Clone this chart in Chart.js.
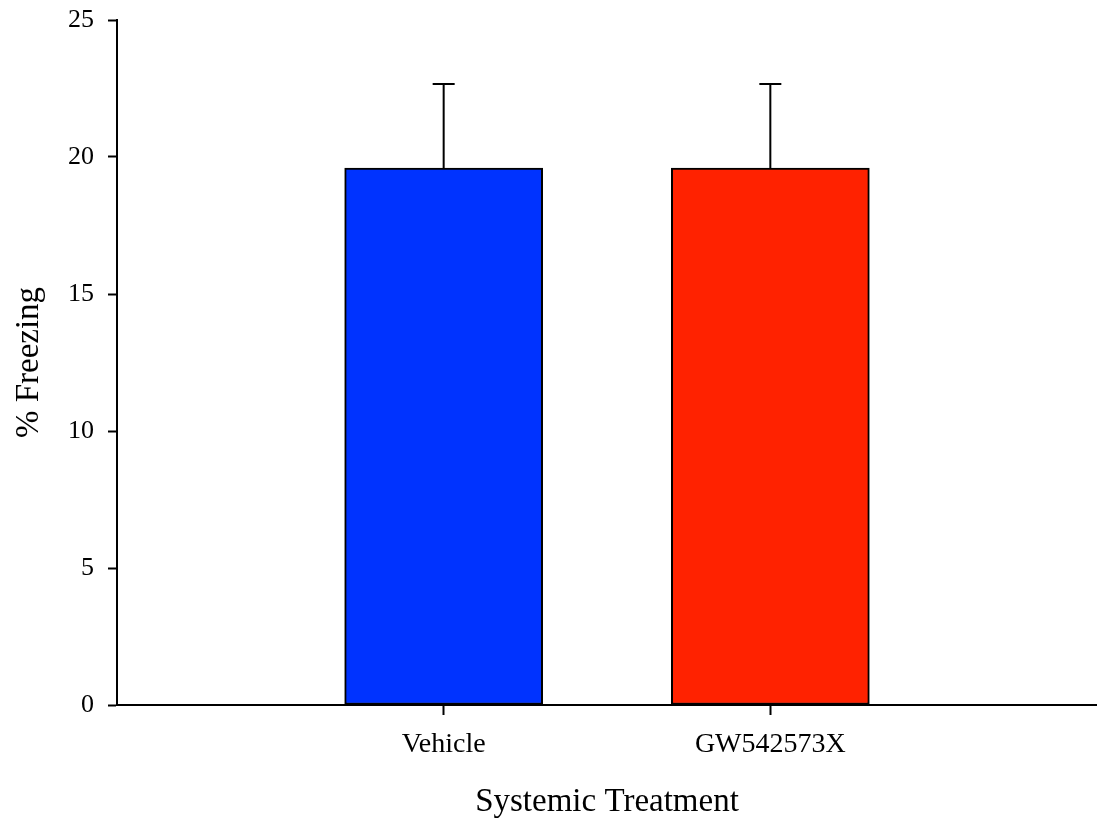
<!DOCTYPE html>
<html>
<head>
<meta charset="utf-8">
<script src="https://cdn.jsdelivr.net/npm/chart.js@4.4.1/dist/chart.umd.min.js"></script>
<style>
    html, body { margin: 0; padding: 0; background: #fff; }
    canvas { display: block; }
</style>
</head>
<body>
<canvas id="freezingChart" width="1097" height="822"></canvas>
<script>
// data
const categories = ["Vehicle", "GW542573X"];
const freezingMeans = [19.6, 19.6];
const freezingErrors = [3.06, 3.06];
const yTicks = [0, 5, 10, 15, 20, 25];
const barColors = ["#0033ff", "#ff2200"];

Chart.defaults.font.family = "'Liberation Serif', 'Times New Roman', serif";
Chart.defaults.color = "#000";

// upper error bars with a cap
const errorBarPlugin = {
    id: "errorBars",
    afterDatasetsDraw(chart) {
        const meta = chart.getDatasetMeta(0);
        const yScale = chart.scales.y;
        const ctx = chart.ctx;
        ctx.save();
        ctx.strokeStyle = "#000";
        ctx.lineWidth = 2;
        meta.data.forEach((bar, i) => {
            const top = yScale.getPixelForValue(freezingMeans[i] + freezingErrors[i]);
            ctx.beginPath();
            ctx.moveTo(bar.x, bar.y);
            ctx.lineTo(bar.x, top);
            ctx.moveTo(bar.x - 11, top);
            ctx.lineTo(bar.x + 11, top);
            ctx.stroke();
        });
        ctx.restore();
    },
};

const ctx = document.getElementById("freezingChart").getContext("2d");
new Chart(ctx, {
    type: "bar",
    data: {
        datasets: [{
            data: categories.map((c, i) => ({ x: i + 1, y: freezingMeans[i] })),
            backgroundColor: barColors,
            borderColor: "#000",
            borderWidth: 2,
            borderSkipped: false,
            barThickness: 198,
        }],
    },
    options: {
        responsive: false,
        animation: false,
        layout: { padding: 0 },
        plugins: { legend: { display: false }, tooltip: { enabled: false } },
        scales: {
            x: {
                type: "linear",
                min: 0,
                max: categories.length + 1,
                offset: false,
                afterBuildTicks: (scale) => {
                    scale.ticks = categories.map((c, i) => ({ value: i + 1 }));
                },
                afterFit: (scale) => { scale.height = 117; },
                grid: {
                    offset: false,
                    drawOnChartArea: false,
                    drawTicks: true,
                    tickLength: 10,
                    tickWidth: 2,
                    tickColor: "#000",
                },
                border: { color: "#000", width: 2 },
                ticks: {
                    autoSkip: false,
                    maxRotation: 0,
                    padding: 13,
                    font: { size: 28 },
                    callback: (value) => categories[value - 1] ?? "",
                },
                title: {
                    display: true,
                    text: "Systemic Treatment",
                    font: { size: 33 },
                    padding: { top: 0, bottom: 0 },
                },
            },
            y: {
                min: 0,
                max: 25,
                afterBuildTicks: (scale) => {
                    scale.ticks = yTicks.map((v) => ({ value: v }));
                },
                afterFit: (scale) => {
                    scale.width = 117;
                    scale.paddingTop = 20;
                },
                grid: {
                    drawOnChartArea: false,
                    drawTicks: true,
                    tickLength: 9,
                    tickWidth: 2,
                    tickColor: "#000",
                },
                border: { color: "#000", width: 2 },
                ticks: {
                    padding: 14,
                    font: { size: 26 },
                },
                title: {
                    display: true,
                    text: "% Freezing",
                    font: { size: 33 },
                    padding: { top: 10, bottom: 8 },
                },
            },
        },
    },
    plugins: [errorBarPlugin],
});
</script>
</body>
</html>
